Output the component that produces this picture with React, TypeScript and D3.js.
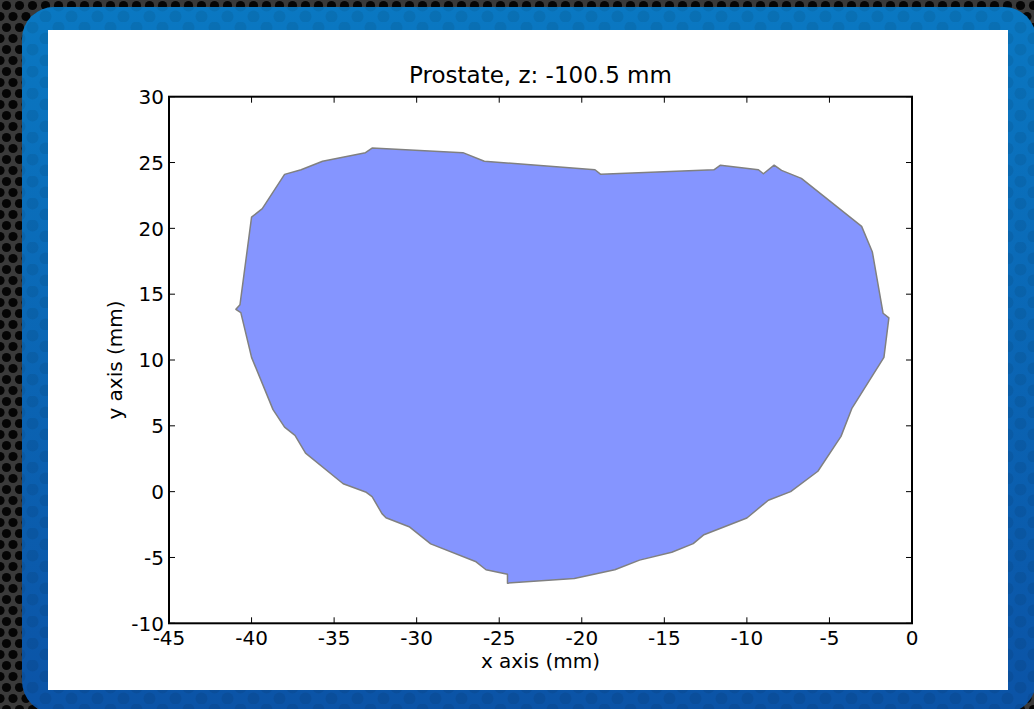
import * as d3 from 'd3';

// contour of the slice, clockwise from the left notch (mm)
const contourX = [
  -40.7, -40.0, -39.35, -38.0, -37.0, -35.7, -33.1, -32.7, -27.2, -25.9,
  -19.2, -18.85, -12.0, -11.6, -9.3, -9.0, -8.35, -7.9, -6.7, -3.05,
  -2.4, -1.75, -1.4, -1.7, -3.65, -4.3, -5.7, -7.35, -8.7, -10.0,
  -12.6, -13.25, -14.55, -16.5, -18.0, -20.45, -24.5, -24.5, -25.8, -26.4,
  -29.15, -30.42, -31.86, -32.1, -32.7, -33.05, -34.45, -36.73, -37.37, -38.0,
  -38.7, -40.0, -40.65, -40.95,
];
const contourY = [
  14.2, 20.85, 21.5, 24.1, 24.45, 25.1, 25.75, 26.1, 25.75, 25.1,
  24.45, 24.1, 24.45, 24.8, 24.45, 24.15, 24.8, 24.4, 23.8, 20.15,
  18.2, 13.55, 13.2, 10.2, 6.3, 4.2, 1.55, 0.0, -0.65, -2.0,
  -3.27, -3.95, -4.6, -5.2, -5.93, -6.6, -6.95, -6.28, -5.93, -5.33,
  -3.97, -2.69, -1.98, -1.67, -0.38, -0.05, 0.6, 2.93, 4.28, 4.9,
  6.23, 10.2, 13.6, 13.85,
];

const xTicks = [-45, -40, -35, -30, -25, -20, -15, -10, -5, 0];
const yTicks = [-10, -5, 0, 5, 10, 15, 20, 25, 30];

const title = 'Prostate, z: -100.5 mm';
const xLabel = 'x axis (mm)';
const yLabel = 'y axis (mm)';

export default function App() {
  const W = 1034;
  const H = 709;
  const left = 169, right = 912, top = 96.7, bottom = 623.3;

  const x = d3.scaleLinear().domain([-45, 0]).range([left, right]);
  const y = d3.scaleLinear().domain([-10, 30]).range([bottom, top]);

  const pts: [number, number][] = contourX.map((v, i) => [v, contourY[i]]);
  const line = d3.line<[number, number]>()
    .x(d => x(d[0]))
    .y(d => y(d[1]))
    .curve(d3.curveLinearClosed);

  const font = 'DejaVu Sans, sans-serif';
  const tick = 6;

  return (
    <svg width={W} height={H} style={{ position: 'absolute', left: 0, top: 0 }}>
      <defs>
        <pattern id="holes" width="13" height="22" patternUnits="userSpaceOnUse">
          <rect width="13" height="22" fill="#3a3a3a" />
          <circle cx="6.5" cy="5.5" r="4.6" fill="#050505" />
          <circle cx="0" cy="16.5" r="4.6" fill="#050505" />
          <circle cx="13" cy="16.5" r="4.6" fill="#050505" />
        </pattern>
        <linearGradient id="frameGrad" x1="0" y1="0" x2="0" y2="1">
          <stop offset="0" stopColor="#0a78c2" />
          <stop offset="1" stopColor="#0b53a6" />
        </linearGradient>
        <pattern id="frameDots" width="26" height="22" patternUnits="userSpaceOnUse">
          <circle cx="6.5" cy="5.5" r="6" fill="rgba(0,0,0,0.07)" />
          <circle cx="19.5" cy="16.5" r="6" fill="rgba(0,0,0,0.07)" />
        </pattern>
      </defs>

      <rect width={W} height={H} fill="url(#holes)" />
      <rect x={22} y={7} width={1014} height={706} rx={32} fill="url(#frameGrad)" />
      <rect x={22} y={7} width={1014} height={706} rx={32} fill="url(#frameDots)" />
      <rect x={48} y={30} width={960} height={660} fill="#ffffff" />

      <path d={line(pts) ?? ''} fill="#8595ff" stroke="#808080" strokeWidth={1.5} strokeLinejoin="round" />

      {/* ticks on all four sides, pointing inward */}
      <g stroke="#000" strokeWidth={1}>
        {xTicks.map(t => (
          <g key={'x' + t}>
            <line x1={x(t)} x2={x(t)} y1={bottom} y2={bottom - tick} />
            <line x1={x(t)} x2={x(t)} y1={top} y2={top + tick} />
          </g>
        ))}
        {yTicks.map(t => (
          <g key={'y' + t}>
            <line x1={left} x2={left + tick} y1={y(t)} y2={y(t)} />
            <line x1={right} x2={right - tick} y1={y(t)} y2={y(t)} />
          </g>
        ))}
      </g>

      <rect x={left} y={top} width={right - left} height={bottom - top} fill="none" stroke="#000" strokeWidth={2} />

      <g fontFamily={font} fontSize={20} fill="#000">
        {xTicks.map(t => (
          <text key={'xl' + t} x={x(t)} y={645} textAnchor="middle">{t}</text>
        ))}
        {yTicks.map(t => (
          <text key={'yl' + t} x={left - 5} y={y(t)} dy="0.36em" textAnchor="end">{t}</text>
        ))}
        <text x={(left + right) / 2} y={668} textAnchor="middle">{xLabel}</text>
        <text transform={`translate(122,${(top + bottom) / 2}) rotate(-90)`} textAnchor="middle">{yLabel}</text>
      </g>

      <text x={(left + right) / 2} y={83} textAnchor="middle" fontFamily={font} fontSize={23} fill="#000">{title}</text>
    </svg>
  );
}
